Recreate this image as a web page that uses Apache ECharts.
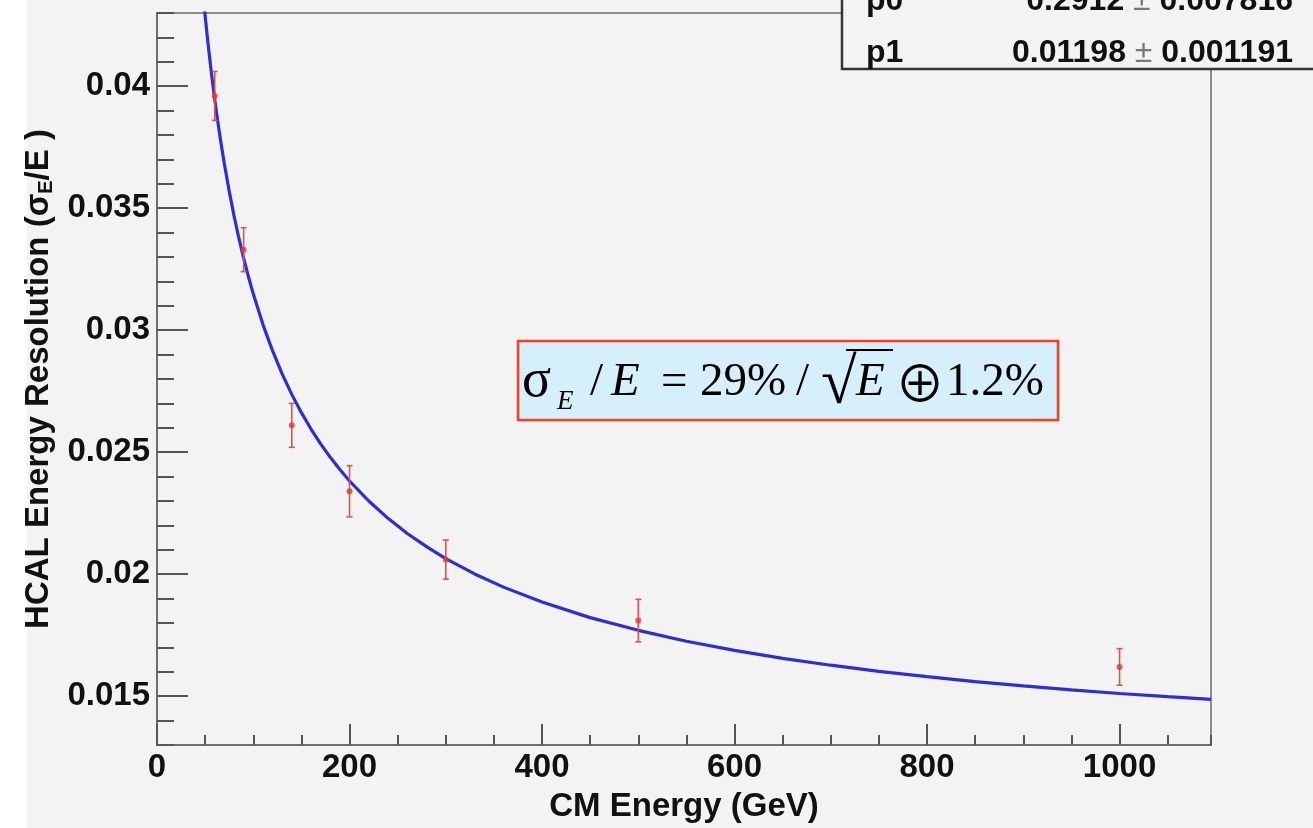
<!DOCTYPE html>
<html>
<head>
<meta charset="utf-8">
<title>HCAL Energy Resolution</title>
<script src="https://cdn.jsdelivr.net/npm/echarts@6/dist/echarts.min.js"></script>
<style>
  html, body { margin: 0; padding: 0; }
  body { background: linear-gradient(to right, #ffffff 27px, #f3f3f3 27px); }
  #chart { width: 1313px; height: 828px; }
</style>
</head>
<body>
<div id="chart"></div>
<script>
// Measured resolution per beam energy, with statistical errors
const energies   = [60, 90, 140, 200, 300, 500, 1000];
const resolution = [0.0396, 0.0333, 0.0261, 0.0234, 0.0206, 0.0181, 0.0162];
const errors     = [0.0010, 0.0009, 0.0009, 0.00105, 0.0008, 0.00087, 0.00075];

// Fitted resolution curve, sampled along the energy range
const fitEnergy = [49, 50, 52, 54, 56, 58, 60, 63, 66, 70, 75, 80, 85, 90, 95, 100,
                   110, 120, 130, 140, 150, 160, 170, 180, 190, 200, 220, 240, 260,
                   280, 300, 330, 360, 400, 450, 500, 550, 600, 650, 700, 750, 800,
                   850, 900, 950, 1000, 1050, 1095];
const fitResolution = [0.04329, 0.04289, 0.04212, 0.04140, 0.04072, 0.04007, 0.03946,
                       0.03859, 0.03779, 0.03681, 0.03570, 0.03469, 0.03378, 0.03295,
                       0.03219, 0.03149, 0.03024, 0.02916, 0.02821, 0.02737, 0.02662,
                       0.02595, 0.02534, 0.02479, 0.02429, 0.02382, 0.02300, 0.02229,
                       0.02167, 0.02113, 0.02064, 0.02001, 0.01947, 0.01886, 0.01822,
                       0.01770, 0.01725, 0.01688, 0.01655, 0.01627, 0.01602, 0.01580,
                       0.01560, 0.01542, 0.01526, 0.01511, 0.01498, 0.01487];

// Fit parameters shown in the stats box
const fitParams = [
  { name: 'p0', value: '0.2912', error: '0.007816' },
  { name: 'p1', value: '0.01198', error: '0.001191' }
];

// Axis ticks
const xTicks = [0, 200, 400, 600, 800, 1000];
const yTicks = [0.015, 0.02, 0.025, 0.03, 0.035, 0.04];
const xRange = [0, 1095];
const yRange = [0.013, 0.043];

const chart = echarts.init(document.getElementById('chart'), null, { renderer: 'canvas' });

const labelFont = { fontFamily: 'Liberation Sans, Arial, sans-serif', fontWeight: 'bold', fontSize: 33, color: '#111' };
const axisGrey = '#6e6e6e';
const serif = '"Liberation Serif", "Times New Roman", serif';

const fmt = v => String(parseFloat(Number(v).toFixed(6)));

const option = {
  backgroundColor: 'transparent',
  animation: false,
  grid: {
    left: 157, right: 102, top: 13, bottom: 80,
    show: true, borderColor: '#8c8c8c', borderWidth: 2, backgroundColor: 'transparent'
  },
  xAxis: [
    {
      type: 'value', min: xRange[0], max: xRange[1], position: 'bottom',
      name: 'CM Energy (GeV)', nameLocation: 'middle', nameGap: 45,
      nameTextStyle: Object.assign({}, labelFont, { fontSize: 33 }),
      axisLine: { show: true, onZero: false, lineStyle: { color: axisGrey, width: 2 } },
      axisTick: { show: true, inside: true, length: 21, customValues: xTicks, lineStyle: { color: '#555', width: 2 } },
      axisLabel: Object.assign({ margin: 6, customValues: xTicks, formatter: fmt }, labelFont),
      splitLine: { show: false }
    },
    {
      type: 'value', min: xRange[0], max: xRange[1], interval: 50, position: 'bottom',
      axisLine: { show: false },
      axisTick: { show: true, inside: true, length: 10, lineStyle: { color: '#555', width: 2 } },
      axisLabel: { show: false },
      splitLine: { show: false }
    }
  ],
  yAxis: [
    {
      type: 'value', min: yRange[0], max: yRange[1], position: 'left',
      name: '{t|HCAL Energy Resolution (σ}{s|E}{t|/E )}',
      nameLocation: 'middle', nameGap: 98, nameRotate: 90,
      nameTextStyle: {
        rich: {
          t: Object.assign({}, labelFont, { fontSize: 33, lineHeight: 36, verticalAlign: 'middle' }),
          s: Object.assign({}, labelFont, { fontSize: 20, lineHeight: 36, verticalAlign: 'bottom' })
        }
      },
      axisLine: { show: true, onZero: false, lineStyle: { color: axisGrey, width: 2 } },
      axisTick: { show: true, inside: true, length: 31, customValues: yTicks, lineStyle: { color: '#555', width: 2 } },
      axisLabel: Object.assign({ margin: 7, customValues: yTicks, formatter: fmt }, labelFont),
      splitLine: { show: false }
    },
    {
      type: 'value', min: yRange[0], max: yRange[1], interval: 0.001, position: 'left',
      axisLine: { show: false },
      axisTick: { show: true, inside: true, length: 17, lineStyle: { color: '#555', width: 2 } },
      axisLabel: { show: false },
      splitLine: { show: false }
    }
  ],
  series: [
    {
      name: 'fit', type: 'line', xAxisIndex: 0, yAxisIndex: 0,
      data: fitEnergy.map((e, i) => [e, fitResolution[i]]),
      smooth: false, showSymbol: false, clip: true,
      lineStyle: { color: '#2e2ed2', width: 3.2 }, z: 3
    },
    {
      name: 'errors', type: 'custom', xAxisIndex: 0, yAxisIndex: 0,
      data: energies.map((e, i) => [e, resolution[i], errors[i]]),
      renderItem: function (params, api) {
        const x = api.value(0), y = api.value(1), err = api.value(2);
        const hi = api.coord([x, y + err]);
        const lo = api.coord([x, y - err]);
        const style = { stroke: '#e2504a', lineWidth: 1.6 };
        const cap = 3;
        return {
          type: 'group',
          children: [
            { type: 'line', shape: { x1: hi[0], y1: hi[1], x2: lo[0], y2: lo[1] }, style: style },
            { type: 'line', shape: { x1: hi[0] - cap, y1: hi[1], x2: hi[0] + cap, y2: hi[1] }, style: style },
            { type: 'line', shape: { x1: lo[0] - cap, y1: lo[1], x2: lo[0] + cap, y2: lo[1] }, style: style }
          ]
        };
      },
      z: 4
    },
    {
      name: 'data', type: 'scatter', xAxisIndex: 0, yAxisIndex: 0,
      data: energies.map((e, i) => [e, resolution[i]]),
      symbol: 'circle', symbolSize: 6,
      itemStyle: { color: '#e8352f' }, z: 5
    }
  ],
  graphic: [
    // stats box with fit parameters
    {
      type: 'rect', z: 100,
      shape: { x: 842, y: -6, width: 500, height: 75 },
      style: { fill: '#f3f3f3', stroke: '#333', lineWidth: 2.5 }
    },
    ...fitParams.map((p, i) => ({
      type: 'text', z: 101, x: 866, y: -15 + i * 52,
      style: { text: p.name, font: 'bold 32px "Liberation Sans", Arial, sans-serif', fill: '#111', verticalAlign: 'top' }
    })),
    ...fitParams.map((p, i) => ({
      type: 'text', z: 101, x: 1293, y: -15 + i * 52,
      style: {
        text: '{b|' + p.value + '}{pm| ± }{b|' + p.error + '}',
        align: 'right', verticalAlign: 'top',
        rich: {
          b: { font: 'bold 32px "Liberation Sans", Arial, sans-serif', fill: '#111' },
          pm: { font: '32px "Liberation Sans", Arial, sans-serif', fill: '#777' }
        }
      }
    })),
    // resolution formula
    {
      type: 'rect', z: 90,
      shape: { x: 518, y: 341, width: 540, height: 79 },
      style: { fill: '#d5effb', stroke: '#ff3b1f', lineWidth: 2.5 }
    },
    { type: 'text', z: 91, x: 522, y: 382, style: { text: 'σ', font: '54px ' + serif, fill: '#000', verticalAlign: 'middle' } },
    { type: 'text', z: 91, x: 557, y: 402, style: { text: 'E', font: 'italic 27px ' + serif, fill: '#000', verticalAlign: 'middle' } },
    { type: 'text', z: 91, x: 590, y: 383, style: { text: '/', font: '47px ' + serif, fill: '#000', verticalAlign: 'middle' } },
    { type: 'text', z: 91, x: 611, y: 383, style: { text: 'E', font: 'italic 47px ' + serif, fill: '#000', verticalAlign: 'middle' } },
    { type: 'text', z: 91, x: 661, y: 383, style: { text: '=', font: '47px ' + serif, fill: '#000', verticalAlign: 'middle' } },
    { type: 'text', z: 91, x: 700, y: 383, style: { text: '29%', font: '47px ' + serif, fill: '#000', verticalAlign: 'middle' } },
    { type: 'text', z: 91, x: 796, y: 383, style: { text: '/', font: '47px ' + serif, fill: '#000', verticalAlign: 'middle' } },
    { type: 'text', z: 91, x: 821, y: 386, style: { text: '√', font: '65px "Liberation Serif", "DejaVu Serif", serif', fill: '#000', verticalAlign: 'middle' } },
    { type: 'line', z: 91, shape: { x1: 846, y1: 350, x2: 893, y2: 350 }, style: { stroke: '#000', lineWidth: 2 } },
    { type: 'text', z: 91, x: 856, y: 383, style: { text: 'E', font: 'italic 47px ' + serif, fill: '#000', verticalAlign: 'middle' } },
    { type: 'text', z: 91, x: 920, y: 383, style: { text: '⊕', font: '400 50px "Noto Sans CJK JP", "DejaVu Sans", serif', fill: '#000', align: 'center', verticalAlign: 'middle' } },
    { type: 'text', z: 91, x: 946, y: 383, style: { text: '1.2%', font: '47px ' + serif, fill: '#000', verticalAlign: 'middle' } }
  ]
};

chart.setOption(option);
</script>
</body>
</html>
